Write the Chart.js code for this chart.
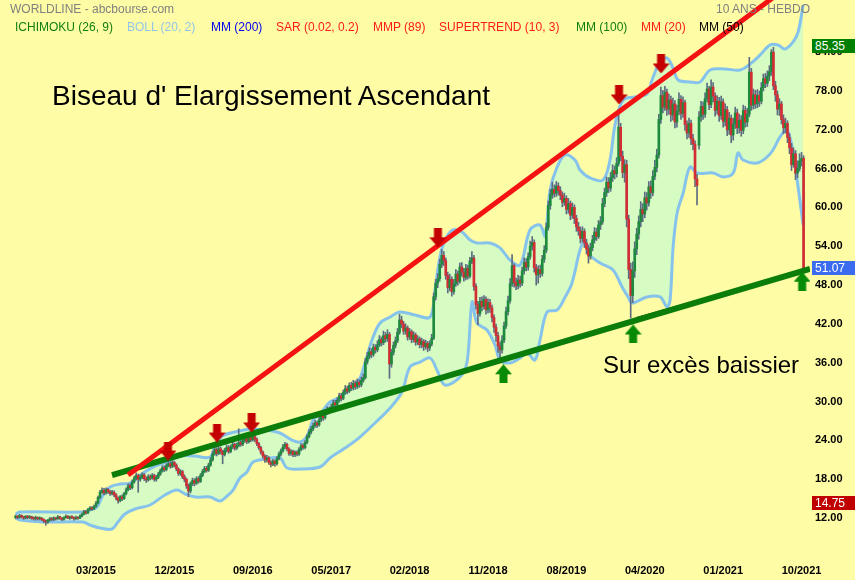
<!DOCTYPE html>
<html lang="fr">
<head>
<meta charset="utf-8">
<title>WORLDLINE - abcbourse.com</title>
<script src="https://cdn.jsdelivr.net/npm/chart.js@4.4.1/dist/chart.umd.min.js"></script>
<style>
  html, body { margin:0; padding:0; background:#fffca6; }
  #wrap { position:relative; width:855px; height:580px; overflow:hidden; background:#fffca6;
          font-family:"Liberation Sans", Arial, Helvetica, sans-serif; }
  #chart { position:absolute; left:0; top:0; }
  .lbl { position:absolute; white-space:nowrap; font-size:12px; line-height:12px; }
  .big { position:absolute; white-space:nowrap; color:#000; }
  .tag { position:absolute; left:812px; width:40px; height:14px; line-height:14px; padding-left:3px; font-size:12px; color:#fff; }
</style>
</head>
<body>
<div id="wrap">
  <canvas id="chart" width="855" height="580"></canvas>
  <div class="lbl" style="left:10px;top:3px;color:#808080">WORLDLINE - abcbourse.com</div>
  <div class="lbl" style="right:45px;top:3px;color:#808080">10 ANS - HEBDO</div>
  <div class="lbl" style="left:15px;top:21px;color:#118011">ICHIMOKU (26, 9)</div>
  <div class="lbl" style="left:127px;top:21px;color:#92c6e8">BOLL (20, 2)</div>
  <div class="lbl" style="left:211px;top:21px;color:#0000f0">MM (200)</div>
  <div class="lbl" style="left:276px;top:21px;color:#ff1a1a">SAR (0.02, 0.2)</div>
  <div class="lbl" style="left:373px;top:21px;color:#ff1a1a">MMP (89)</div>
  <div class="lbl" style="left:439px;top:21px;color:#ff1a1a">SUPERTREND (10, 3)</div>
  <div class="lbl" style="left:576px;top:21px;color:#118011">MM (100)</div>
  <div class="lbl" style="left:641px;top:21px;color:#ff1a1a">MM (20)</div>
  <div class="lbl" style="left:699px;top:21px;color:#000">MM (50)</div>
  <div class="big" style="left:52px;top:82px;font-size:28px;line-height:28px">Biseau d' Elargissement Ascendant</div>
  <div class="big" style="left:603px;top:353px;font-size:24px;line-height:24px">Sur excès baissier</div>
</div>
<script>
// ---------- axis labels ----------
const xTickIdx = [40, 79, 118, 157, 196, 235, 274, 313, 352, 391];
const xTickLabels = ['03/2015','12/2015','09/2016','05/2017','02/2018','11/2018','08/2019','04/2020','01/2021','10/2021'];
const yTicks = [12, 18, 24, 30, 36, 42, 48, 54, 60, 66, 72, 78, 84];

// ---------- weekly candles (index = week) ----------
const opens = [
12.7,12.9,12.7,13.0,12.8,12.6,12.9,12.7,12.8,12.6,
12.5,12.7,12.5,12.6,12.4,12.2,12.0,12.3,12.5,12.4,
12.6,12.5,12.8,12.6,12.4,12.7,12.9,12.6,12.8,12.7,
12.5,12.7,12.6,12.9,13.2,13.6,13.4,13.9,14.2,14.0,
14.4,14.9,15.8,16.6,16.9,16.5,17.0,16.7,16.4,16.6,
16.2,15.7,15.3,15.9,15.6,16.4,17.0,17.6,17.3,18.2,
18.8,19.2,18.6,18.9,19.3,18.7,18.5,19.0,18.8,19.2,
18.6,18.9,19.4,19.9,20.4,20.1,20.7,21.0,20.6,21.2,
20.8,20.2,19.5,19.8,19.0,18.6,17.6,16.8,17.9,18.4,
18.0,18.7,18.3,19.2,19.8,20.3,20.0,20.8,21.6,22.5,
23.2,22.6,23.3,22.9,22.4,23.1,23.5,22.9,23.6,24.0,
23.4,23.8,24.3,24.0,24.6,24.9,24.4,25.1,24.7,25.2,
24.8,24.1,23.5,22.8,22.2,21.6,21.9,21.2,20.9,21.4,
21.0,21.8,22.5,23.0,23.6,24.0,23.3,22.6,22.9,22.4,
22.8,22.5,23.2,23.8,23.5,24.3,25.2,25.9,26.4,26.9,
27.3,27.0,27.8,28.4,28.1,28.9,29.4,29.1,29.8,30.4,
30.1,30.8,31.5,31.1,32.0,32.6,32.2,33.1,32.7,33.4,
32.9,33.6,33.2,33.9,34.3,36.8,37.6,38.3,37.9,39.0,
38.6,39.4,40.2,39.7,40.8,40.3,41.0,36.4,38.2,39.3,
40.0,41.3,43.2,42.6,41.5,42.0,40.6,41.4,40.2,40.9,
39.8,40.3,39.4,39.9,39.1,39.6,38.9,39.5,40.4,46.8,
48.9,49.6,51.8,53.2,52.4,50.1,48.2,49.5,47.6,48.8,
50.3,49.2,51.4,50.6,49.8,51.2,50.0,52.3,52.8,48.4,
45.6,44.2,46.1,45.3,46.4,44.8,45.9,45.1,43.6,42.1,
40.8,39.2,38.6,40.1,42.3,44.5,46.2,48.8,51.6,49.0,
48.5,49.4,48.9,50.8,52.1,51.4,53.0,54.6,55.2,51.3,
50.2,51.0,50.4,52.6,54.0,57.5,60.9,62.6,63.4,62.8,
63.9,63.2,62.5,61.4,62.0,60.3,61.2,59.4,60.6,58.9,
57.6,57.0,55.8,56.9,55.1,54.2,53.1,54.4,55.6,56.8,
56.1,57.9,58.4,61.2,62.9,64.5,63.6,65.2,66.3,65.8,
67.4,73.0,68.5,66.0,67.2,58.8,51.0,47.0,50.8,54.2,
56.5,58.4,60.3,59.6,62.1,61.3,63.8,62.9,65.4,66.8,
68.7,74.2,77.9,76.1,78.4,75.8,77.2,74.9,76.6,73.8,
75.5,77.3,75.1,76.8,73.4,72.1,73.6,71.2,70.4,65.0,
70.2,74.6,76.2,75.0,77.4,78.9,76.5,79.2,77.8,75.6,
77.0,74.8,76.9,73.9,75.7,72.6,74.4,71.8,73.5,75.2,
72.9,74.1,72.5,75.6,73.8,75.0,81.5,76.4,78.0,76.6,
77.9,77.0,79.1,80.5,79.8,80.9,81.6,84.6,79.4,78.0,
75.8,76.6,74.2,72.9,73.6,71.4,69.8,67.2,68.9,65.9,
66.6,67.8,68.2];
const highs = [
13.1,13.0,13.2,13.1,12.9,13.0,13.0,13.0,12.9,12.8,
12.9,12.8,12.8,12.7,12.5,12.3,12.4,12.7,12.7,12.8,
12.7,13.0,12.9,12.7,12.8,13.1,13.0,12.9,13.0,12.8,
12.9,12.8,13.1,13.4,13.8,13.8,14.1,14.4,14.4,14.6,
15.2,16.0,16.9,17.3,17.2,17.3,17.2,16.9,16.9,16.8,
16.4,15.9,16.1,16.2,16.6,17.3,17.9,17.9,18.5,19.1,
19.6,19.4,19.3,19.6,19.5,19.0,19.3,19.3,19.5,19.4,
19.2,19.7,20.2,20.7,20.7,21.0,21.4,21.3,21.5,21.4,
21.0,20.4,20.1,20.0,19.3,18.8,17.9,18.2,18.8,18.7,
19.0,19.0,19.5,20.1,20.6,20.6,21.1,22.0,22.9,23.6,
23.5,23.7,23.6,23.1,23.4,23.9,23.8,23.9,24.4,24.2,
24.2,26.4,24.6,24.9,25.3,25.2,25.5,25.4,25.6,25.5,
25.0,24.3,23.7,23.0,22.4,22.3,22.1,21.5,21.7,21.6,
22.1,22.8,23.3,24.0,24.3,24.2,23.5,23.2,23.1,23.0,
23.0,23.5,24.1,24.1,24.6,25.5,26.3,26.8,27.3,27.7,
27.6,28.2,28.8,28.7,29.3,29.8,29.8,30.2,30.8,30.8,
31.2,31.9,31.9,32.4,33.1,33.0,33.5,33.6,33.9,33.8,
34.1,34.0,34.4,34.9,37.3,38.2,38.9,38.8,39.5,39.4,
40.0,40.8,40.6,41.5,41.3,41.7,41.3,38.7,39.8,40.6,
41.9,44.1,43.8,43.0,42.6,42.3,41.9,41.7,41.4,41.2,
40.8,40.6,40.4,40.2,40.1,39.9,40.0,41.0,47.4,49.5,
50.4,52.6,54.1,53.8,52.8,50.6,50.3,49.9,49.5,51.0,
50.8,52.0,52.1,51.2,51.8,51.7,52.9,53.8,53.2,48.8,
46.1,46.7,46.8,47.0,46.8,46.5,46.4,45.5,44.0,42.6,
41.3,39.8,40.8,42.9,45.2,46.9,49.6,53.3,51.9,49.7,
50.1,50.0,51.4,52.8,52.7,53.6,55.4,56.1,55.6,51.8,
51.6,51.7,53.2,54.7,58.2,61.6,63.4,64.5,64.1,64.6,
64.4,63.8,63.0,62.8,62.4,62.0,61.6,61.3,61.0,59.4,
58.3,57.6,57.6,57.3,55.7,54.8,55.1,56.3,57.5,57.4,
58.6,59.2,62.0,63.6,65.3,65.2,66.0,67.2,67.0,68.3,
75.7,73.6,69.3,68.0,67.9,59.4,52.0,52.2,55.3,57.4,
59.3,61.5,61.2,63.0,62.9,64.6,64.7,66.3,67.9,69.6,
75.0,79.2,78.7,79.3,78.9,78.1,77.8,77.5,77.1,76.4,
78.3,77.9,77.7,77.2,74.0,74.4,74.1,71.9,70.9,65.7,
75.4,77.0,76.9,78.3,79.8,79.3,80.3,79.9,78.3,77.9,
77.6,77.8,77.4,76.6,76.2,75.3,74.9,74.4,76.1,75.8,
75.0,74.8,76.4,76.2,75.9,83.8,82.1,78.9,78.7,78.8,
78.6,79.9,81.2,81.3,81.7,82.5,85.0,85.35,80.1,78.6,
77.4,77.0,74.9,74.4,74.0,72.0,70.5,69.8,69.4,67.8,
68.9,69.1,68.6];
const lows = [
12.5,12.5,12.6,12.6,12.4,12.5,12.5,12.5,12.4,12.3,
12.3,12.3,12.3,12.2,11.9,11.5,11.8,12.1,12.2,12.2,
12.3,12.4,12.4,12.2,12.3,12.6,12.5,12.4,12.5,12.3,
12.4,12.4,12.5,12.8,13.1,13.2,13.3,13.8,13.8,13.9,
14.3,14.8,15.6,16.4,16.2,16.3,16.4,16.1,16.2,15.9,
15.4,14.9,15.1,15.3,15.5,16.2,16.8,17.0,17.1,18.0,
18.5,16.6,18.3,18.7,18.4,18.1,18.3,18.5,18.6,18.3,
18.3,18.7,19.2,19.7,19.8,19.9,20.5,20.3,20.4,20.5,
19.9,19.2,19.2,18.7,18.2,17.2,15.9,16.5,17.6,17.6,
17.8,18.0,18.1,19.0,19.6,19.7,19.8,20.6,21.4,22.3,
22.2,22.4,22.5,21.0,22.2,22.8,22.6,22.7,23.3,23.1,
23.2,23.6,23.7,23.8,24.3,24.1,24.2,24.4,24.5,24.4,
23.8,23.2,22.5,21.9,21.2,21.3,20.9,20.5,20.7,20.6,
20.8,21.6,22.2,22.8,23.3,23.0,22.3,22.3,22.1,22.1,
22.2,22.3,23.0,23.2,23.3,24.1,25.0,25.6,26.1,26.6,
26.6,26.8,27.5,27.7,27.9,28.6,28.7,28.9,29.6,29.7,
29.9,30.5,30.7,30.9,31.7,31.8,32.0,32.3,32.4,32.5,
32.6,32.8,32.9,33.6,34.1,36.4,37.2,37.4,37.6,38.1,
38.3,39.1,39.2,39.4,39.8,39.9,34.2,35.9,37.8,38.9,
39.7,41.0,42.0,41.0,41.0,40.1,40.2,39.7,39.8,39.3,
39.4,38.9,38.9,38.5,38.7,38.3,38.5,39.2,40.2,46.3,
48.2,49.2,51.3,51.6,49.5,47.4,47.7,46.9,47.2,48.4,
48.6,48.9,50.0,49.2,49.4,49.5,49.7,51.9,47.8,44.9,
42.5,43.8,44.6,44.9,44.1,44.3,44.4,42.9,41.3,39.9,
38.2,37.3,38.1,39.7,41.9,44.0,45.8,48.4,48.3,47.9,
48.0,48.3,48.5,50.3,50.8,50.9,52.6,54.0,50.6,48.6,
48.9,49.8,50.0,52.1,53.6,57.1,60.3,62.0,62.2,62.3,
62.5,61.8,60.7,60.9,59.6,59.7,58.7,58.9,58.1,56.9,
56.3,55.1,55.3,54.4,53.4,52.0,52.6,53.9,55.1,55.5,
55.8,57.2,58.0,60.7,62.3,62.9,63.1,64.6,65.0,65.3,
67.0,67.8,65.2,64.5,57.6,49.6,43.5,45.9,49.8,53.3,
55.7,57.6,58.4,59.0,60.2,60.8,62.0,62.4,64.9,66.1,
68.2,73.6,75.2,75.6,74.8,75.0,73.9,74.1,72.9,73.0,
74.9,74.2,74.5,72.5,71.2,71.4,70.3,69.5,63.8,61.0,
69.6,73.9,74.2,74.5,76.9,75.7,76.0,76.9,74.7,75.0,
73.9,74.2,73.0,73.2,71.7,71.9,70.6,71.0,72.8,72.0,
72.1,71.6,72.0,73.0,73.1,74.6,75.6,75.8,75.9,76.0,
76.2,76.6,78.6,79.1,79.3,80.2,81.0,78.8,77.0,74.9,
74.8,73.5,72.0,72.1,70.6,68.9,66.3,66.8,64.9,65.2,
66.2,67.0,50.8];
const closes = [
12.9,12.7,13.0,12.8,12.6,12.9,12.7,12.8,12.6,12.5,
12.7,12.5,12.6,12.4,12.2,12.0,12.3,12.5,12.4,12.6,
12.5,12.8,12.6,12.4,12.7,12.9,12.6,12.8,12.7,12.5,
12.7,12.6,12.9,13.2,13.6,13.4,13.9,14.2,14.0,14.4,
14.9,15.8,16.6,16.9,16.5,17.0,16.7,16.4,16.6,16.2,
15.7,15.3,15.9,15.6,16.4,17.0,17.6,17.3,18.2,18.8,
19.2,18.6,18.9,19.3,18.7,18.5,19.0,18.8,19.2,18.6,
18.9,19.4,19.9,20.4,20.1,20.7,21.0,20.6,21.2,20.8,
20.2,19.5,19.8,19.0,18.6,17.6,16.8,17.9,18.4,18.0,
18.7,18.3,19.2,19.8,20.3,20.0,20.8,21.6,22.5,23.2,
22.6,23.3,22.9,22.4,23.1,23.5,22.9,23.6,24.0,23.4,
23.8,24.3,24.0,24.6,24.9,24.4,25.1,24.7,25.2,24.8,
24.1,23.5,22.8,22.2,21.6,21.9,21.2,20.9,21.4,21.0,
21.8,22.5,23.0,23.6,24.0,23.3,22.6,22.9,22.4,22.8,
22.5,23.2,23.8,23.5,24.3,25.2,25.9,26.4,26.9,27.3,
27.0,27.8,28.4,28.1,28.9,29.4,29.1,29.8,30.4,30.1,
30.8,31.5,31.1,32.0,32.6,32.2,33.1,32.7,33.4,32.9,
33.6,33.2,33.9,34.3,36.8,37.6,38.3,37.9,39.0,38.6,
39.4,40.2,39.7,40.8,40.3,41.0,36.4,38.2,39.3,40.0,
41.3,43.2,42.6,41.5,42.0,40.6,41.4,40.2,40.9,39.8,
40.3,39.4,39.9,39.1,39.6,38.9,39.5,40.4,46.8,48.9,
49.6,51.8,53.2,52.4,50.1,48.2,49.5,47.6,48.8,50.3,
49.2,51.4,50.6,49.8,51.2,50.0,52.3,52.8,48.4,45.6,
44.2,46.1,45.3,46.4,44.8,45.9,45.1,43.6,42.1,40.8,
39.2,38.6,40.1,42.3,44.5,46.2,48.8,51.6,49.0,48.5,
49.4,48.9,50.8,52.1,51.4,53.0,54.6,55.2,51.3,50.2,
51.0,50.4,52.6,54.0,57.5,60.9,62.6,63.4,62.8,63.9,
63.2,62.5,61.4,62.0,60.3,61.2,59.4,60.6,58.9,57.6,
57.0,55.8,56.9,55.1,54.2,53.1,54.4,55.6,56.8,56.1,
57.9,58.4,61.2,62.9,64.5,63.6,65.2,66.3,65.8,67.4,
73.0,68.5,66.0,67.2,58.8,51.0,47.0,50.8,54.2,56.5,
58.4,60.3,59.6,62.1,61.3,63.8,62.9,65.4,66.8,68.7,
74.2,77.9,76.1,78.4,75.8,77.2,74.9,76.6,73.8,75.5,
77.3,75.1,76.8,73.4,72.1,73.6,71.2,70.4,65.0,64.0,
74.6,76.2,75.0,77.4,78.9,76.5,79.2,77.8,75.6,77.0,
74.8,76.9,73.9,75.7,72.6,74.4,71.8,73.5,75.2,72.9,
74.1,72.5,75.6,73.8,75.0,81.5,76.4,78.0,76.6,77.9,
77.0,79.1,80.5,79.8,80.9,81.6,84.6,79.4,78.0,75.8,
76.6,74.2,72.9,73.6,71.4,69.8,67.2,68.9,65.9,66.6,
67.8,68.2,51.07];

// ---------- Bollinger (20,2) envelope ----------
const upperIdx = [0,2.2,33.5,37.0,40.5,43.5,47.0,51.9,56.9,63.4,69.4,75.3,81.8,89.3,96.7,99.2,102.7,109.2,116.6,124.1,
131.5,137.5,141.5,145.0,148.0,151.4,156.4,161.4,166.4,171.3,173.8,177.3,181.3,186.3,191.2,198.7,206.2,208.6,211.1,213.6,
217.6,222.1,226.1,229.5,236.0,241.0,246.0,251.0,255.9,260.9,263.4,265.9,269.4,273.4,278.3,280.8,285.8,292.2,295.7,298.2,
302.2,308.2,314.1,316.6,320.6,324.1,327.1,329.6,335.5,340.5,345.5,353.0,360.4,365.4,370.4,375.3,379.3,382.8,386.8,389.3,391.8];
const upperVal = [13.24,13.55,13.55,13.85,14.32,16.17,17.41,17.87,18.03,19.57,20.65,21.27,22.20,22.20,22.04,23.90,25.29,25.91,26.37,26.21,
25.75,24.67,24.36,25.29,27.76,28.69,30.54,31.31,32.70,34.25,36.57,40.12,42.75,43.67,44.45,43.98,43.67,47.85,52.95,55.57,
57.12,56.81,55.57,55.11,55.11,54.34,52.48,51.71,57.12,57.89,56.19,63.30,66.85,68.71,67.93,66.39,65.15,64.84,67.93,73.34,
77.20,77.67,78.13,80.29,83.08,83.69,82.15,80.29,79.99,79.99,81.84,81.99,81.84,82.77,84.16,85.70,85.70,85.08,86.17,87.71,91.88];
const lowerIdx = [0,2.2,13.6,33.5,37.0,42.0,48.0,50.9,54.4,59.4,66.9,74.3,80.3,84.3,89.3,96.7,101.7,105.2,108.2,111.6,
115.1,118.1,124.1,131.5,135.0,141.5,151.4,156.4,163.9,171.3,178.8,186.3,192.2,196.2,201.2,206.2,209.6,213.6,221.1,224.6,
227.1,229.5,234.5,238.5,241.0,246.0,251.0,254.4,258.4,260.9,264.4,269.4,273.4,276.8,280.8,283.3,285.8,290.8,297.2,301.7,
304.7,306.7,314.1,320.6,324.1,325.6,327.1,329.1,332.1,335.5,339.0,347.0,352.0,357.0,359.4,361.9,368.9,373.9,376.8,380.3,
383.8,386.8,388.8,391.8];
const lowerVal = [12.62,12.31,12.00,12.00,11.54,11.07,10.92,12.00,13.24,14.01,14.63,16.17,16.94,16.33,15.86,15.86,15.24,16.02,16.94,18.80,
19.73,21.27,21.73,21.89,20.34,20.19,20.50,21.89,23.43,25.13,27.30,29.61,32.09,35.95,36.72,37.34,35.49,33.17,34.40,36.72,
45.99,42.75,41.67,39.35,37.03,36.57,37.34,38.11,37.03,40.12,44.45,44.76,46.77,48.93,54.03,55.42,53.25,52.02,50.94,48.31,
46.77,45.84,46.77,46.77,45.22,46.30,54.49,59.74,62.83,66.85,65.92,65.92,65.31,65.92,69.01,67.93,67.47,68.40,69.48,71.49,
72.57,69.01,64.84,57.89];

// ---------- drawn trend lines & signals ----------
const redLineIdx = [55.97, 391.7];
const redLineVal = [19.26, 96.44];
const greenLineIdx = [47.97, 395.2];
const greenLineVal = [19.26, 51.1];
const thinLineIdx = [309.0, 371.2];
const thinLineVal = [43.52, 48.97];
const arrowIdx = [75.8, 100.2, 117.4, 210.1, 300.2, 321.1, 242.7, 307.2, 391.3];
const arrowVal = [22.97, 25.75, 27.30, 55.9, 77.98, 82.77, 34.9, 41.05, 49.2];
const arrowDir = ['down','down','down','down','down','down','up','up','up'];
const priceTags = [85.35, 51.07, 14.75];

// ---------- rendering ----------
const UP = '#1d8a3d', DOWN = '#d22d32';
const tagColors = ['#008000', '#3b6cf0', '#c00000'];
const FONT = '"Liberation Sans", Arial, Helvetica, sans-serif';

function pts(xs, ys) { return xs.map((x, i) => ({ x: x, y: ys[i] })); }

function makeArrow(color, down) {
  const c = document.createElement('canvas');
  c.width = 17; c.height = 19;
  const g = c.getContext('2d');
  g.fillStyle = color;
  g.beginPath();
  const shape = [[4.5,0],[12.5,0],[12.5,9],[17,9],[8.5,19],[0,9],[4.5,9]];
  shape.forEach(([x, y], k) => {
    const yy = down ? y : 19 - y;
    if (k) g.lineTo(x, yy); else g.moveTo(x, yy);
  });
  g.closePath();
  g.fill();
  return c;
}
const arrowImg = { down: makeArrow('#c40000', true), up: makeArrow('#078a07', false) };

const tagPlugin = {
  id: 'priceTags',
  afterDraw(chart) {
    const y = chart.scales.y;
    const wrap = document.getElementById('wrap');
    priceTags.forEach((v, i) => {
      let el = document.getElementById('tag' + i);
      if (!el) {
        el = document.createElement('div');
        el.id = 'tag' + i;
        el.className = 'tag';
        wrap.appendChild(el);
      }
      el.style.background = tagColors[i];
      el.style.top = (y.getPixelForValue(v) - 8) + 'px';
      el.textContent = v.toFixed(2);
    });
  }
};

new Chart(document.getElementById('chart').getContext('2d'), {
  type: 'bar',
  data: {
    datasets: [
      { type: 'line', data: pts(upperIdx, upperVal), borderColor: '#86c3ec', borderWidth: 3,
        pointRadius: 0, tension: 0.35, fill: 1, backgroundColor: '#d6fbc3', order: 10 },
      { type: 'line', data: pts(lowerIdx, lowerVal), borderColor: '#86c3ec', borderWidth: 3,
        pointRadius: 0, tension: 0.35, fill: false, order: 10 },
      { type: 'bar', data: highs.map((h, i) => ({ x: i, y: [lows[i], h] })),
        backgroundColor: '#5d6c80', barThickness: 1, grouped: false, order: 6 },
      { type: 'bar', data: closes.map((c, i) => ({ x: i, y: [opens[i], c] })),
        backgroundColor: (ctx) => closes[ctx.dataIndex] >= opens[ctx.dataIndex] ? UP : DOWN,
        barThickness: 2, minBarLength: 1, grouped: false, order: 5 },
      { type: 'line', data: pts(thinLineIdx, thinLineVal), borderColor: '#2b2b2b', borderWidth: 2,
        pointRadius: 0, fill: false, order: 3 },
      { type: 'line', data: pts(greenLineIdx, greenLineVal), borderColor: '#0b7d0b', borderWidth: 6,
        pointRadius: 0, fill: false, order: 2 },
      { type: 'line', data: pts(redLineIdx, redLineVal), borderColor: '#f51212', borderWidth: 5,
        pointRadius: 0, fill: false, order: 1 },
      { type: 'line', data: pts(arrowIdx, arrowVal), showLine: false, pointRadius: 9,
        pointStyle: (ctx) => arrowImg[arrowDir[ctx.dataIndex]], order: 0 }
    ]
  },
  options: {
    responsive: false,
    animation: false,
    devicePixelRatio: 1,
    layout: { padding: 0, autoPadding: false },
    plugins: {
      legend: { display: false },
      tooltip: { enabled: false },
      filler: { propagate: false, drawTime: 'beforeDatasetsDraw' }
    },
    scales: {
      x: {
        type: 'linear', min: -7.76, max: 395.2, offset: false,
        grid: { display: false, drawTicks: false }, border: { display: false },
        afterBuildTicks: (s) => { s.ticks = xTickIdx.map(v => ({ value: v })); },
        afterFit: (s) => { s.height = 24; s.paddingLeft = 0; s.paddingRight = 0; },
        ticks: { autoSkip: false, maxRotation: 0, minRotation: 0, padding: 8, color: '#000',
                 font: { family: FONT, size: 11, weight: 'bold' },
                 callback: (v) => xTickLabels[xTickIdx.indexOf(v)] }
      },
      y: {
        type: 'linear', position: 'right', min: 6.75, max: 92.65,
        grid: { display: false, drawTicks: false }, border: { display: false },
        afterBuildTicks: (s) => { s.ticks = yTicks.map(v => ({ value: v })); },
        afterFit: (s) => { s.width = 45; s.paddingTop = 0; s.paddingBottom = 0; },
        ticks: { autoSkip: false, padding: 5, labelOffset: -4, color: '#000',
                 font: { family: FONT, size: 11, weight: 'bold' },
                 callback: (v) => Number(v).toFixed(2) }
      }
    }
  },
  plugins: [tagPlugin]
});
</script>
</body>
</html>
